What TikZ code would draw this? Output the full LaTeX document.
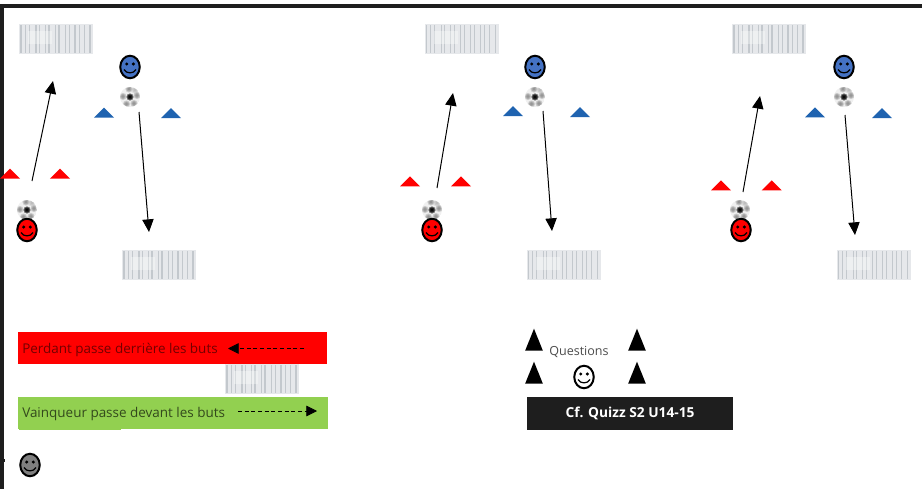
\documentclass[tikz,border=0pt]{standalone}
\usepackage{fontspec}
\setmainfont{Open Sans}
\usetikzlibrary{arrows.meta,positioning,shapes.geometric}
\definecolor{frameblk}{HTML}{1E1E1E}
\definecolor{coneblue}{HTML}{1F63B0}
\definecolor{faceblue}{HTML}{4472C4}
\definecolor{legendgreen}{HTML}{92D050}
\definecolor{goalgrey}{HTML}{E6E8EB}
\definecolor{goalline}{HTML}{C3C8CD}
\newcommand{\softspot}[2]{
  \fill[#2,opacity=0.3] (path picture bounding box.center)++(#1) circle (3.6);
  \fill[#2,opacity=0.4] (path picture bounding box.center)++(#1) circle (2.6);
  \fill[#2,opacity=0.5] (path picture bounding box.center)++(#1) circle (1.6);
}
\tikzset{
  face/.style={draw=black,ellipse,line width=1.5pt,fill=#1,inner sep=0pt,
    minimum width=19.5pt*0.75,minimum height=22.5pt*0.75,
    path picture={
      \fill[black] (path picture bounding box.center)++(-3.3,-3) circle (1.7);
      \fill[black] (path picture bounding box.center)++(3.3,-3) circle (1.7);
      \draw[black,line width=0.9pt] (path picture bounding box.center)++(-6,2.5)
        .. controls +(2,4.5) and +(-2,4.5) .. +(12,0);
    }},
  ball/.style={circle,inner sep=0pt,minimum size=20pt*0.75,fill=white,
    path picture={
      \fill[gray!12] (path picture bounding box.center) circle (10);
      \softspot{0,0}{black}
      \softspot{0,0}{black}
      \softspot{-7,-0.5}{gray}
      \softspot{7,-1.5}{gray}
      \softspot{-3.5,7}{gray}
      \softspot{4,6.5}{gray}
      \softspot{-1,-8}{gray}
      \softspot{5,-7}{gray!60}
    }},
  goal/.style={rectangle,inner sep=0pt,fill=goalgrey,draw=goalgrey,minimum width=73pt*0.75,minimum height=29pt*0.75,
    path picture={
      \foreach \i/\w in {-35/2,-31/1,-27/1,-20/2,-17/1,-11/1,-7/2,-1/1,3/2,9/1,13/1,19/2,23/1,28/1,34/2}
        \draw[goalline,line width=\w*0.5pt] (path picture bounding box.center)++(\i,-15) -- ++(0,30);
      \fill[white,opacity=0.35] (path picture bounding box.center)++(-28,-8) rectangle ++(24,13);
    }},
  cone/.style={fill=#1,isosceles triangle,isosceles triangle apex angle=90,shape border rotate=90,
    inner sep=0pt,minimum height=10pt*0.75,anchor=lower side},
  marker/.style={fill=black,isosceles triangle,isosceles triangle apex angle=44,shape border rotate=90,
    inner sep=0pt,minimum height=22pt*0.75,anchor=lower side},
  band/.style={rectangle,inner sep=0pt,fill=#1},
  pass/.style={black,line width=0.75pt,-{Triangle[length=9.5pt,width=8.5pt]}},
  dashpass/.style={black,line width=0.6pt,dash pattern=on 3pt off 2pt,-{Triangle[length=8pt,width=8pt]}},
  legend/.style={font=\fontsize{10.1pt}{12pt}\selectfont,inner sep=0pt,anchor=west}
}
\begin{document}
\begin{tikzpicture}[x=0.75pt,y=-0.75pt]
\useasboundingbox (0,0) rectangle (922,489);

% frame
\fill[frameblk] (0,4) rectangle (922,8);
\fill[frameblk] (0,4) rectangle (4,489);
\fill[frameblk] (0,459) rectangle (5,462);

% first panel
\path (56,39)   node[goal] (G1) {};
\path (159,265) node[goal] (H1) {};
\path (130,67)  node[face=faceblue] (B1) {};
\path (130,97)  node[ball] (P1) {};
\path (104,118) node[cone=coneblue] (K1) {};
\path (171,118.5) node[cone=coneblue] (L1) {};
\path (10,179)  node[cone=red] (M1) {};
\path (60,179)  node[cone=red] (N1) {};
\path (27,210)  node[ball] (Q1) {};
\path (27,230)  node[face=red] (R1) {};
\coordinate (S1) at (32,181);
\coordinate (T1) at (53,81);
\coordinate (U1) at (139,112);
\coordinate (V1) at (149,232);
\draw[pass] (S1) to (T1);
\draw[pass] (U1) to (V1);

% second panel
\path (461.5,39) node[goal] (G2) {};
\path (563.5,265) node[goal] (H2) {};
\path (535,67)  node[face=faceblue] (B2) {};
\path (535,97)  node[ball] (P2) {};
\path (513,116.5) node[cone=coneblue] (K2) {};
\path (580,117.5) node[cone=coneblue] (L2) {};
\path (410,186.7) node[cone=red] (M2) {};
\path (461,186.7) node[cone=red] (N2) {};
\path (432,210) node[ball] (Q2) {};
\path (432,230) node[face=red] (R2) {};
\coordinate (S2) at (437,188);
\coordinate (T2) at (453,93);
\coordinate (U2) at (543,111);
\coordinate (V2) at (552,231);
\draw[pass] (S2) to (T2);
\draw[pass] (U2) to (V2);

% third panel
\path (769,39)  node[goal] (G3) {};
\path (873.5,265) node[goal] (H3) {};
\path (844,67)  node[face=faceblue] (B3) {};
\path (844,97)  node[ball] (P3) {};
\path (815,117.7) node[cone=coneblue] (K3) {};
\path (882,118.5) node[cone=coneblue] (L3) {};
\path (721,190.7) node[cone=red] (M3) {};
\path (771.7,190.7) node[cone=red] (N3) {};
\path (740,210) node[ball] (Q3) {};
\path (741,230) node[face=red] (R3) {};
\coordinate (S3) at (743,192);
\coordinate (T3) at (760,96);
\coordinate (U3) at (845,115);
\coordinate (V3) at (855,235);
\draw[pass] (S3) to (T3);
\draw[pass] (U3) to (V3);

% legend
\path (172.5,348) node[band=red,minimum width=309pt*0.75,minimum height=32pt*0.75] (A1) {};
\path (173,413)   node[band=legendgreen,minimum width=310pt*0.75,minimum height=32pt*0.75] (A2) {};
\fill[legendgreen] (19,429) rectangle (121,430);
\path (262,378.5) node[goal] (G4) {};
\path (22,349.5) node[legend,text=red!45!black] (E1) {Perdant passe derrière les buts};
\path (22,413.5) node[legend,text=legendgreen!35!black] (E2) {Vainqueur passe devant les buts};
\coordinate (W1) at (304,348.5);
\coordinate (X1) at (228,348.5);
\coordinate (W2) at (238,411);
\coordinate (X2) at (317,411);
\draw[dashpass] (W1) to (X1);
\draw[dashpass] (W2) to (X2);
\path (30,465) node[face=gray] (F1) {};

% questions
\path (534,351) node[marker] (C1) {};
\path (637,351) node[marker] (C2) {};
\path (534,384) node[marker] (C3) {};
\path (637,384) node[marker] (C4) {};
\path (579,352) node[inner sep=0pt,text=black!70,font=\fontsize{9.4pt}{10pt}\selectfont] (D1) {Questions};
\path (584,377) node[face=white] (F2) {};
\path (630,413.5) node[band=frameblk,minimum width=206pt*0.75,minimum height=33pt*0.75,text=white,
  font=\fontsize{10.3pt}{12pt}\selectfont\bfseries] (D2) {Cf. Quizz S2 U14-15};
\end{tikzpicture}
\end{document}
